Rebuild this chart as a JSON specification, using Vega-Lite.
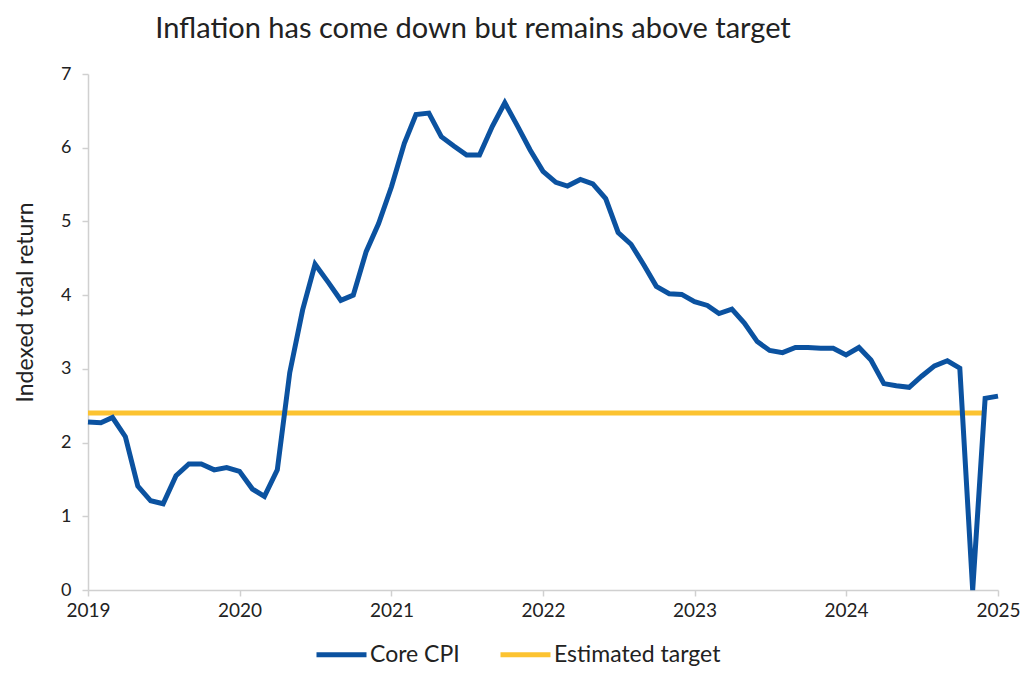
{
  "$schema": "https://vega.github.io/schema/vega-lite/v6.json",
  "width": 910,
  "height": 516,
  "autosize": {"type": "none"},
  "padding": {"left": 88, "top": 74, "right": 26, "bottom": 100},
  "background": "white",
  "title": {
    "text": "Inflation has come down but remains above target",
    "anchor": "middle",
    "dx": -70,
    "offset": 21,
    "fontSize": 29,
    "fontWeight": "normal",
    "font": "Lato",
    "color": "#222222"
  },
  "config": {
    "view": {"stroke": null},
    "font": "Lato"
  },
  "data": {
    "values": [
      {"date": "2019-01-01", "series": "Core CPI", "value": 2.28},
      {"date": "2019-02-01", "series": "Core CPI", "value": 2.27},
      {"date": "2019-03-01", "series": "Core CPI", "value": 2.34},
      {"date": "2019-04-01", "series": "Core CPI", "value": 2.08},
      {"date": "2019-05-01", "series": "Core CPI", "value": 1.41},
      {"date": "2019-06-01", "series": "Core CPI", "value": 1.21},
      {"date": "2019-07-01", "series": "Core CPI", "value": 1.17},
      {"date": "2019-08-01", "series": "Core CPI", "value": 1.55},
      {"date": "2019-09-01", "series": "Core CPI", "value": 1.71},
      {"date": "2019-10-01", "series": "Core CPI", "value": 1.71},
      {"date": "2019-11-01", "series": "Core CPI", "value": 1.63},
      {"date": "2019-12-01", "series": "Core CPI", "value": 1.66},
      {"date": "2020-01-01", "series": "Core CPI", "value": 1.61},
      {"date": "2020-02-01", "series": "Core CPI", "value": 1.37},
      {"date": "2020-03-01", "series": "Core CPI", "value": 1.27},
      {"date": "2020-04-01", "series": "Core CPI", "value": 1.63},
      {"date": "2020-05-01", "series": "Core CPI", "value": 2.95},
      {"date": "2020-06-01", "series": "Core CPI", "value": 3.8},
      {"date": "2020-07-01", "series": "Core CPI", "value": 4.42},
      {"date": "2020-08-01", "series": "Core CPI", "value": 4.18},
      {"date": "2020-09-01", "series": "Core CPI", "value": 3.93},
      {"date": "2020-10-01", "series": "Core CPI", "value": 4.0},
      {"date": "2020-11-01", "series": "Core CPI", "value": 4.59},
      {"date": "2020-12-01", "series": "Core CPI", "value": 4.97},
      {"date": "2021-01-01", "series": "Core CPI", "value": 5.47},
      {"date": "2021-02-01", "series": "Core CPI", "value": 6.06},
      {"date": "2021-03-01", "series": "Core CPI", "value": 6.45},
      {"date": "2021-04-01", "series": "Core CPI", "value": 6.47},
      {"date": "2021-05-01", "series": "Core CPI", "value": 6.15},
      {"date": "2021-06-01", "series": "Core CPI", "value": 6.02},
      {"date": "2021-07-01", "series": "Core CPI", "value": 5.9},
      {"date": "2021-08-01", "series": "Core CPI", "value": 5.9},
      {"date": "2021-09-01", "series": "Core CPI", "value": 6.29},
      {"date": "2021-10-01", "series": "Core CPI", "value": 6.61},
      {"date": "2021-11-01", "series": "Core CPI", "value": 6.29},
      {"date": "2021-12-01", "series": "Core CPI", "value": 5.97},
      {"date": "2022-01-01", "series": "Core CPI", "value": 5.68},
      {"date": "2022-02-01", "series": "Core CPI", "value": 5.53},
      {"date": "2022-03-01", "series": "Core CPI", "value": 5.48},
      {"date": "2022-04-01", "series": "Core CPI", "value": 5.57},
      {"date": "2022-05-01", "series": "Core CPI", "value": 5.51},
      {"date": "2022-06-01", "series": "Core CPI", "value": 5.31},
      {"date": "2022-07-01", "series": "Core CPI", "value": 4.85},
      {"date": "2022-08-01", "series": "Core CPI", "value": 4.69},
      {"date": "2022-09-01", "series": "Core CPI", "value": 4.41},
      {"date": "2022-10-01", "series": "Core CPI", "value": 4.12},
      {"date": "2022-11-01", "series": "Core CPI", "value": 4.02},
      {"date": "2022-12-01", "series": "Core CPI", "value": 4.01},
      {"date": "2023-01-01", "series": "Core CPI", "value": 3.91},
      {"date": "2023-02-01", "series": "Core CPI", "value": 3.86},
      {"date": "2023-03-01", "series": "Core CPI", "value": 3.75},
      {"date": "2023-04-01", "series": "Core CPI", "value": 3.81},
      {"date": "2023-05-01", "series": "Core CPI", "value": 3.62},
      {"date": "2023-06-01", "series": "Core CPI", "value": 3.37},
      {"date": "2023-07-01", "series": "Core CPI", "value": 3.25},
      {"date": "2023-08-01", "series": "Core CPI", "value": 3.22},
      {"date": "2023-09-01", "series": "Core CPI", "value": 3.29},
      {"date": "2023-10-01", "series": "Core CPI", "value": 3.29},
      {"date": "2023-11-01", "series": "Core CPI", "value": 3.28},
      {"date": "2023-12-01", "series": "Core CPI", "value": 3.28},
      {"date": "2024-01-01", "series": "Core CPI", "value": 3.19},
      {"date": "2024-02-01", "series": "Core CPI", "value": 3.29},
      {"date": "2024-03-01", "series": "Core CPI", "value": 3.12},
      {"date": "2024-04-01", "series": "Core CPI", "value": 2.8},
      {"date": "2024-05-01", "series": "Core CPI", "value": 2.77},
      {"date": "2024-06-01", "series": "Core CPI", "value": 2.75},
      {"date": "2024-07-01", "series": "Core CPI", "value": 2.9},
      {"date": "2024-08-01", "series": "Core CPI", "value": 3.04},
      {"date": "2024-09-01", "series": "Core CPI", "value": 3.11},
      {"date": "2024-10-01", "series": "Core CPI", "value": 3.01},
      {"date": "2024-11-01", "series": "Core CPI", "value": 0.0},
      {"date": "2024-12-01", "series": "Core CPI", "value": 2.6},
      {"date": "2025-01-01", "series": "Core CPI", "value": 2.63},
      {"date": "2019-01-01", "series": "Estimated target", "value": 2.4},
      {"date": "2024-12-01", "series": "Estimated target", "value": 2.4}
    ]
  },
  "encoding": {
    "x": {
      "field": "date",
      "type": "temporal",
      "scale": {"domain": ["2019-01-01", "2025-01-01"]},
      "axis": {
        "title": null,
        "format": "%Y",
        "tickCount": {"interval": "year", "step": 1},
        "grid": false,
        "domainColor": "#d0d0d0",
        "domainWidth": 1.5,
        "tickColor": "#d0d0d0",
        "tickWidth": 1.5,
        "tickSize": 6,
        "labelFontSize": 19,
        "labelColor": "#222222",
        "labelPadding": 5,
        "labelFlush": false
      }
    },
    "y": {
      "field": "value",
      "type": "quantitative",
      "scale": {"domain": [0, 7], "nice": false},
      "axis": {
        "title": "Indexed total return",
        "values": [0, 1, 2, 3, 4, 5, 6, 7],
        "grid": false,
        "domainColor": "#d0d0d0",
        "domainWidth": 1.5,
        "tickColor": "#d0d0d0",
        "tickWidth": 1.5,
        "tickSize": 6,
        "labelFontSize": 18,
        "labelColor": "#222222",
        "labelPadding": 11,
        "titleFontSize": 23,
        "titleFontWeight": "normal",
        "titleColor": "#222222",
        "titleX": -63,
        "titleY": 228,
        "titleBaseline": "middle",
        "titleAlign": "center",
        "titleAngle": -90
      }
    },
    "color": {
      "field": "series",
      "type": "nominal",
      "scale": {
        "domain": ["Core CPI", "Estimated target"],
        "range": ["#0B52A0", "#FCC331"]
      },
      "legend": {
        "title": null,
        "orient": "none",
        "direction": "horizontal",
        "legendX": 226,
        "legendY": 553,
        "symbolType": "stroke",
        "symbolSize": 2500,
        "symbolStrokeWidth": 5,
        "labelFontSize": 23,
        "labelLimit": 400,
        "labelColor": "#222222",
        "labelOffset": 1,
        "columnPadding": 30
      }
    }
  },
  "layer": [
    {
      "transform": [{"filter": "datum.series === 'Estimated target'"}],
      "mark": {"type": "line", "strokeWidth": 5}
    },
    {
      "transform": [{"filter": "datum.series === 'Core CPI'"}],
      "mark": {"type": "line", "strokeWidth": 5, "strokeJoin": "miter"}
    }
  ]
}
